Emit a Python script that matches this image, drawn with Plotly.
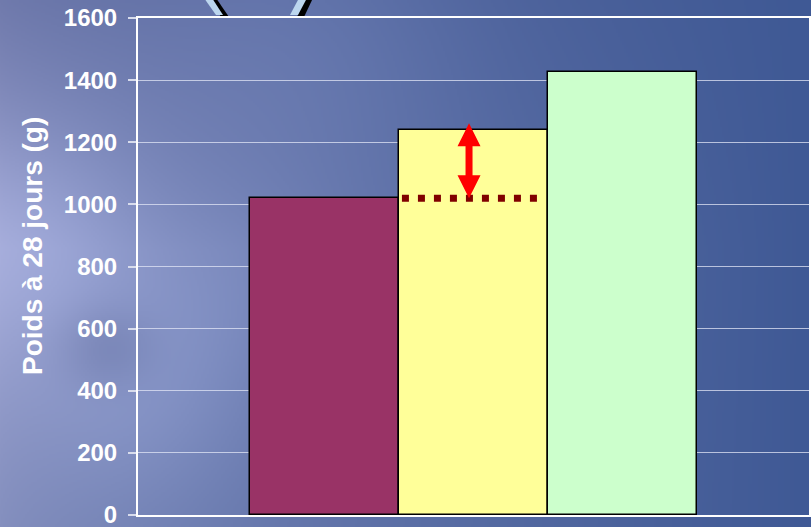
import base64
import struct
import zlib

import numpy as np
import plotly.graph_objects as go

# ---- data -------------------------------------------------------------
groups = ["Lot A", "Lot B", "Lot C"]
weights = [1020, 1240, 1425]          # poids à 28 jours (g)
bar_colors = ["#993366", "#FFFF99", "#CCFFCC"]
y_ticks = [0, 200, 400, 600, 800, 1000, 1200, 1400, 1600]

W, H = 811, 527
M = dict(l=138, r=2, t=18, b=12)
PW = W - M["l"] - M["r"]
PH = H - M["t"] - M["b"]


# ---- cloudy blue backdrop, encoded as a small PNG ----------------------
def png_uri(rgb):
    h, w, _ = rgb.shape
    raw = b"".join(b"\x00" + rgb[i].tobytes() for i in range(h))

    def chunk(tag, data):
        c = struct.pack(">I", len(data)) + tag + data
        return c + struct.pack(">I", zlib.crc32(tag + data) & 0xFFFFFFFF)

    png = (b"\x89PNG\r\n\x1a\n"
           + chunk(b"IHDR", struct.pack(">IIBBBBB", w, h, 8, 2, 0, 0, 0))
           + chunk(b"IDAT", zlib.compress(raw, 9))
           + chunk(b"IEND", b""))
    return "data:image/png;base64," + base64.b64encode(png).decode()


bw, bh = 406, 264
xs = np.linspace(0, 1, bw)[None, :]
ys = np.linspace(0, 1, bh)[:, None]
left_top = np.array([112, 122, 172.0])
left_mid = np.array([145, 152, 198.0])
left_bot = np.array([132, 143, 190.0])
right = np.array([63, 89, 149.0])
wy = ys[..., None]
left = np.where(wy < 0.47,
                left_top + (left_mid - left_top) * (wy / 0.47),
                left_mid + (left_bot - left_mid) * ((wy - 0.47) / 0.53))
t = (xs[..., None]) ** 0.75
img = left * (1 - t) + right * t
# soft cloud highlights
for cx, cy, r, amp in [(0.03, 0.47, 0.16, 22), (0.18, 0.75, 0.14, 14),
                       (0.38, 0.05, 0.2, 10), (0.3, 0.55, 0.12, 8)]:
    d2 = ((xs - cx) / r) ** 2 + ((ys - cy) / (r * W / H)) ** 2
    img = img + amp * np.exp(-d2)[..., None]
# a darker patch in the clouds
d2 = ((xs - 0.13) / 0.06) ** 2 + ((ys - 0.66) / 0.08) ** 2
img = img - 18 * np.exp(-d2)[..., None]
bg = np.clip(img, 0, 255).astype(np.uint8)

fig = go.Figure()
fig.add_trace(go.Bar(
    x=groups, y=weights, width=1,
    marker=dict(color=bar_colors, line=dict(color="#000000", width=1.5)),
    showlegend=False, hoverinfo="skip",
))

fig.add_layout_image(dict(
    source=png_uri(bg), xref="paper", yref="paper",
    x=-M["l"] / PW, y=1 + M["t"] / PH,
    sizex=W / PW, sizey=H / PH,
    xanchor="left", yanchor="top", sizing="stretch", layer="below",
))

# dotted reference level of the first lot, drawn across the second bar
fig.add_shape(type="line", xref="x", yref="y",
              x0=0.52, x1=1.43, y0=weights[0], y1=weights[0],
              line=dict(color="#800000", width=7, dash="7px,9px"))

# red double arrow showing the gain
fig.add_shape(type="path", xref="x", yref="y",
              xsizemode="pixel", ysizemode="pixel",
              xanchor=0.97, yanchor=weights[0],
              path=("M0,0 L-11.5,23 L-3.5,23 L-3.5,52 L-11.5,52 L0,75 "
                    "L11.5,52 L3.5,52 L3.5,23 L11.5,23 Z"),
              fillcolor="#FF0000", line=dict(width=0))

# decorative bracket strokes above the plot
for pts, col in [
    ([(209, -2), (216, -2), (229, 17), (221, 17)], "#000000"),
    ([(204, -2), (212, -2), (223, 15), (216, 15)], "#BCD6EE"),
    ([(305, -2), (313, -2), (304, 17), (297, 17)], "#000000"),
    ([(299, -2), (307, -2), (298, 15), (290, 15)], "#BCD6EE"),
]:
    path = "M" + " L".join(
        f"{(x - M['l']) / PW:.5f},{(H - M['b'] - y) / PH:.5f}" for x, y in pts) + " Z"
    fig.add_shape(type="path", xref="paper", yref="paper", path=path,
                  fillcolor=col, line=dict(width=0), layer="below")

fig.add_annotation(
    text="<b>Poids à 28 jours (g)</b>", textangle=-90,
    xref="paper", yref="paper", x=0, xshift=-106, xanchor="center",
    y=(H - M["b"] - 246) / PH, yanchor="middle", showarrow=False,
    font=dict(family="Liberation Sans, Arial, sans-serif", size=28, color="#FFFFFF"),
)

fig.update_layout(
    width=W, height=H, margin=M,
    paper_bgcolor="#5a6aa3", plot_bgcolor="rgba(0,0,0,0)",
    bargap=0,
    xaxis=dict(range=[-1.25, 3.25], showticklabels=False, ticks="",
               automargin=False,
               showgrid=False, zeroline=False, showline=True, mirror=True,
               linecolor="#FFFFFF", linewidth=2, fixedrange=True),
    yaxis=dict(range=[0, 1600], tickvals=y_ticks, ticks="outside", ticklen=8,
               tickcolor="#D8DCEC", tickwidth=1.5, ticklabelstandoff=6,
               ticklabeloverflow="allow", automargin=False,
               tickfont=dict(family="Liberation Sans, Arial, sans-serif",
                             size=24, color="#FFFFFF", weight="bold"),
               showgrid=True, gridcolor="rgba(225,230,245,0.75)", gridwidth=1,
               zeroline=False, showline=True, mirror=True,
               linecolor="#FFFFFF", linewidth=2, fixedrange=True),
)

fig.write_html("out.html")
